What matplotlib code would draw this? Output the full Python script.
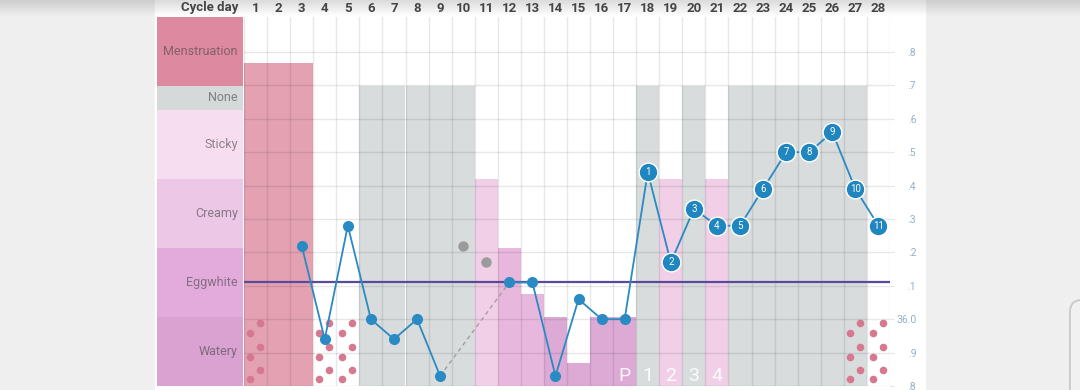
import matplotlib
matplotlib.use('Agg')
import numpy as np
import matplotlib.pyplot as plt
from matplotlib.patches import Rectangle, FancyBboxPatch
from matplotlib.transforms import IdentityTransform

plt.rcParams['font.family'] = ['Roboto', 'DejaVu Sans']

# ---- data ----
days = np.arange(1, 29)
temps = [np.nan, np.nan, 36.22, 35.94, 36.28, 36.00, 35.94, 36.00, 35.83, np.nan,
         np.nan, 36.11, 36.11, 35.83, 36.06, 36.00, 36.00, 36.44, 36.17, 36.33,
         36.28, 36.28, 36.39, 36.50, 36.50, 36.56, 36.39, 36.28]
excluded_days = [10, 11]
excluded_temps = [36.22, 36.17]
coverline = 36.11
high_days = [18, 19, 20, 21, 22, 23, 24, 25, 26, 27, 28]
high_labels = ['1', '2', '3', '4', '5', '6', '7', '8', '9', '10', '11']
peak_days = [17, 18, 19, 20, 21]
peak_labels = ['P', '1', '2', '3', '4']
spotting_days = [1, 4, 5, 27, 28]

mucus_rows = ['Watery', 'Eggwhite', 'Creamy', 'Sticky', 'None', 'Menstruation']
row_sizes = [1, 1, 1, 1, 0.348, 1]
mucus_kind = ['men', 'men', 'men', '', '', 'none', 'none', 'none', 'none', 'none',
              'creamy', 'egg', 'egg', 'watery', 'watery', 'watery', 'watery', 'none',
              'creamy', 'none', 'creamy', 'none', 'none', 'none', 'none', 'none',
              'none', '']
mucus_level = [4.68, 4.68, 4.68, 0, 0, 4.348, 4.348, 4.348, 4.348, 4.348,
               3.0, 2.0, 1.33, 1.0, 0.33, 1.0, 1.0, 4.348,
               3.0, 4.348, 3.0, 4.348, 4.348, 4.348, 4.348, 4.348, 4.348, 0]

# ---- style ----
W, H = 1080, 390
bar_colors = {'men': '#e4a1b2', 'none': '#d8dcdc', 'creamy': '#f0cfe7',
              'egg': '#e8b7dd', 'watery': '#dcaad5', '': (1, 1, 1, 0)}
row_colors = ['#d9a2d0', '#e3abdc', '#ecc7e6', '#f6ddf0', '#d5d9d9', '#dd8aa0']
blue = '#2a8ac3'
grid_kw = dict(color='black', alpha=0.09, lw=1)

fig = plt.figure(figsize=(W / 100, H / 100), dpi=100, facecolor='#efefef')
fig.add_artist(Rectangle((155 / W, 0), (925 - 155) / W, 1, transform=fig.transFigure,
                         color='white', zorder=-2))

# top shadow
ax_sh = fig.add_axes([0, 1 - 17 / H, 1, 17 / H], zorder=-1)
grad = np.zeros((17, 2, 4))
grad[:, :, 3] = np.linspace(0.14, 0.0, 17)[:, None]
ax_sh.imshow(grad, aspect='auto', extent=(0, 1, 0, 1))
ax_sh.axis('off')

# rounded ui box bottom right
fig.add_artist(FancyBboxPatch((1070, -20), 70, 110, boxstyle='round,pad=0,rounding_size=12',
                              transform=IdentityTransform(), fc='#f1f1f1', ec='#c9c9c9', lw=1.3))

rect = [244 / W, 4 / H, 646 / W, 369 / H]
ymax_rows = 369 / 69

# mucus columns
ax_bg = fig.add_axes(rect)
ax_bg.set_xlim(0.5, 28.5)
ax_bg.set_ylim(0, ymax_rows)
ax_bg.bar(days, mucus_level, width=1.0, color=[bar_colors[k] for k in mucus_kind], linewidth=0)
dx = [0.2, -0.24, 0.2, -0.24, 0.2, -0.24]
dy = [0.91, 0.77, 0.565, 0.42, 0.23, 0.10]
for d in spotting_days:
    ax_bg.scatter([d + x for x in dx], dy, s=30, color='#d6788f', linewidths=0, zorder=3)
for d, lab in zip(peak_days, peak_labels):
    ax_bg.text(d, 0.15, lab, ha='center', va='center', fontsize=14, color='white', alpha=0.9, zorder=4)
ax_bg.axis('off')

# temperature
ax_t = fig.add_axes(rect)
ax_t.patch.set_visible(False)
ax_t.set_xlim(0.5, 28.5)
ax_t.set_ylim(35.8, 35.8 + 369 / 334)
for s in ax_t.spines.values():
    s.set_visible(False)

ticks = np.round(np.arange(35.8, 36.85, 0.1), 1)
ax_t.set_yticks(ticks)
ax_t.set_yticklabels([f'{t:.1f}' if abs(t - round(t)) < 1e-6 else '.' + f'{t:.1f}'[-1] for t in ticks])
ax_t.yaxis.tick_right()
ax_t.tick_params(axis='y', length=3, color='#e4e4e4', labelcolor='#93b1c3', labelsize=7.5, pad=16)
for lbl in ax_t.get_yticklabels():
    lbl.set_horizontalalignment('right')

ax_t.xaxis.tick_top()
ax_t.set_xticks(days)
ax_t.set_xticklabels([str(d) for d in days], fontweight='bold', fontsize=9.5, color='#444444')
ax_t.set_xticks(np.arange(0.5, 29, 1), minor=True)
ax_t.tick_params(axis='x', which='both', length=0, pad=1.5)
ax_t.grid(axis='y', **grid_kw)
ax_t.grid(axis='x', which='minor', **grid_kw)

ax_t.axhline(coverline, color='#5a4a9c', lw=1.6, zorder=3)

t = np.array(temps)
before = excluded_days[0] - 1
after = excluded_days[-1] + 1
ax_t.plot([before, after], [t[before - 1], t[after - 1]], ls=(0, (3, 2.5)), color='#a0a0a0', lw=1, zorder=3)
ax_t.plot(days, t, color=blue, lw=1.3, zorder=4)
low = [i for i, d in enumerate(days) if d not in high_days]
ax_t.plot(days[low], t[low], 'o', ms=8, color=blue, mew=0, zorder=5)
ax_t.plot(excluded_days, excluded_temps, 'o', ms=7.5, color='#9b9b9b', mew=0, zorder=5)
hi = [d - 1 for d in high_days]
ax_t.plot(high_days, t[hi], 'o', ms=13.5, color='#1f86c0', mec='white', mew=1, zorder=6)
for d, lab in zip(high_days, high_labels):
    ax_t.text(d, t[d - 1], lab, ha='center', va='center', fontsize=7, color='white', zorder=7)

# row labels
ax_lab = fig.add_axes([157 / W, 4 / H, 86 / W, 369 / H])
ax_lab.set_xlim(0, 1)
ax_lab.set_ylim(0, ymax_rows)
bottoms = np.concatenate([[0], np.cumsum(row_sizes)[:-1]])
ax_lab.barh(bottoms, 1, height=row_sizes, align='edge', color=row_colors, linewidth=0)
for b, h, name in zip(bottoms, row_sizes, mucus_rows):
    ax_lab.text(0.94, b + h / 2, name, ha='right', va='center', fontsize=9, color='#444444', alpha=0.6)
ax_lab.axis('off')

fig.text(238 / W, 1 - 8 / H, 'Cycle day', ha='right', va='center', fontweight='bold',
         fontsize=9.5, color='#444444')

fig.savefig('out.png', dpi=100, facecolor=fig.get_facecolor())
